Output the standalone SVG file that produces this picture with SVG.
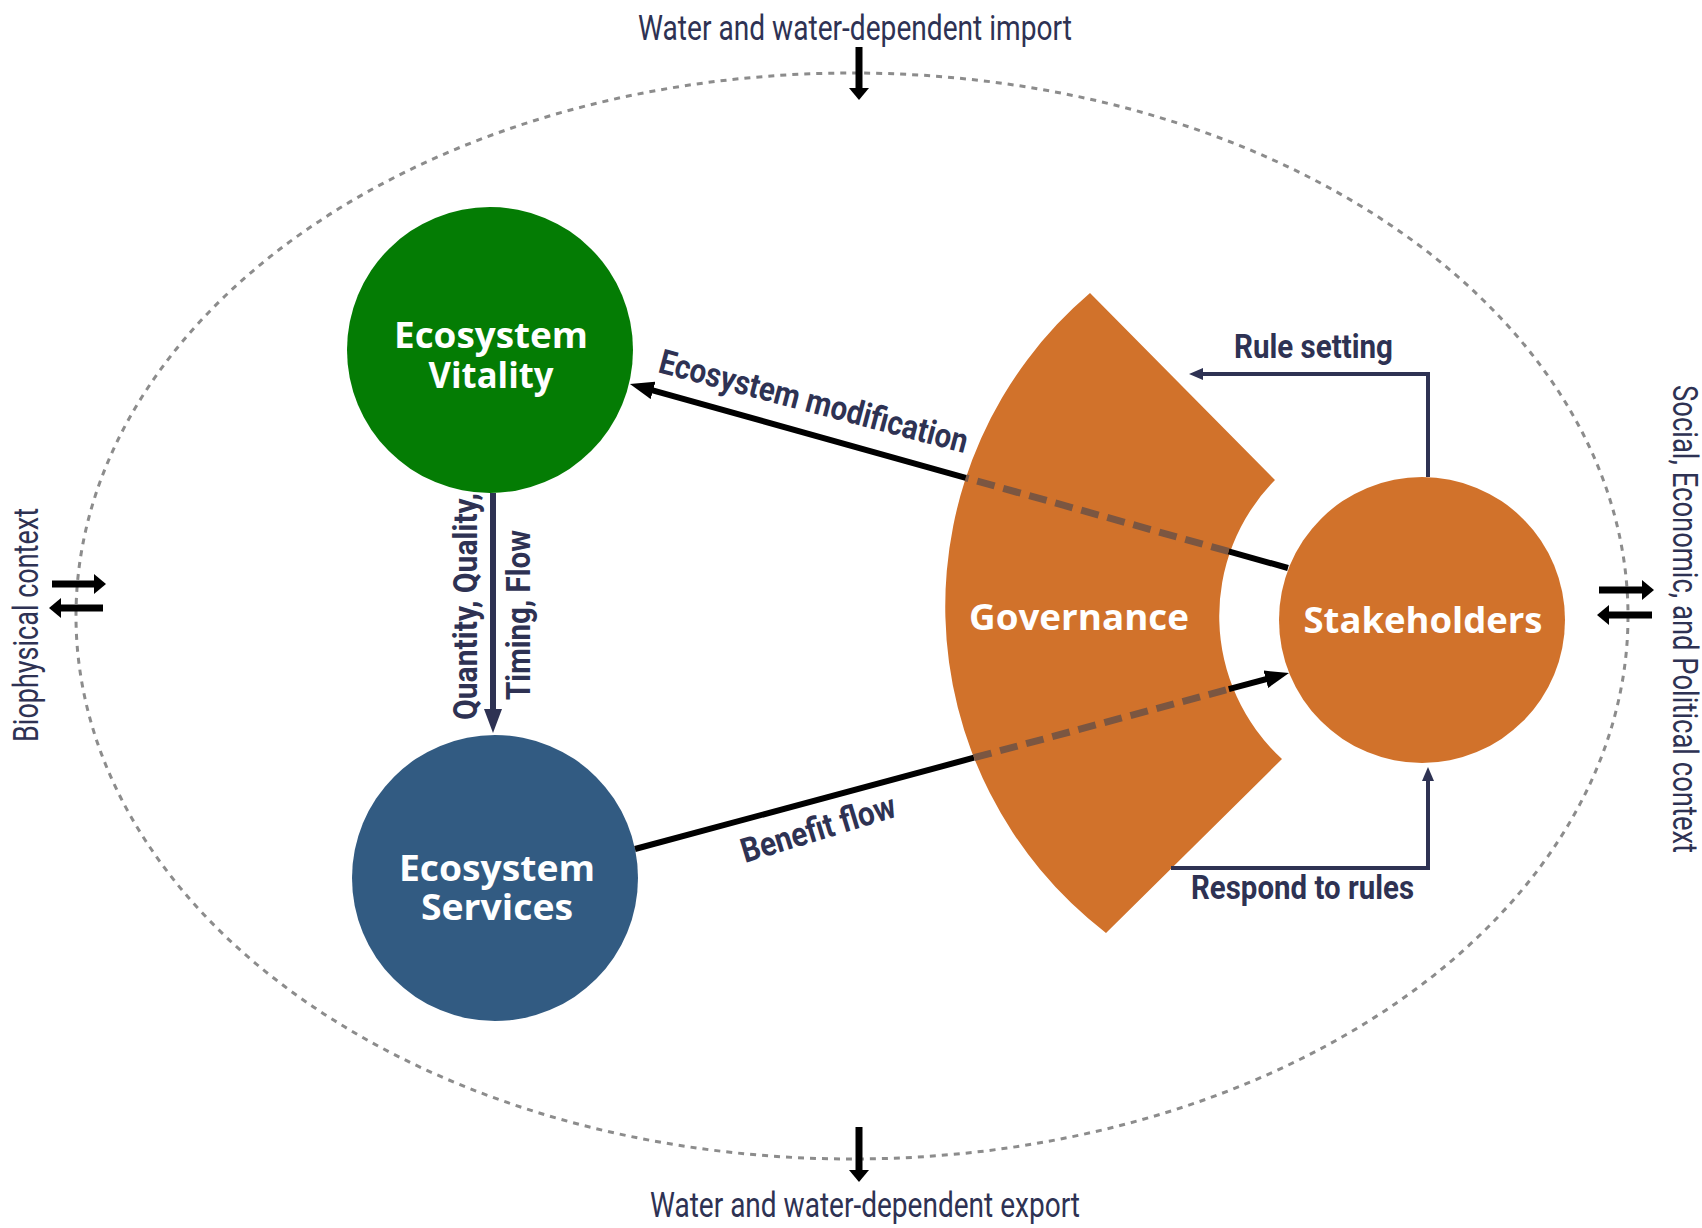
<svg xmlns="http://www.w3.org/2000/svg" width="1702" height="1228" viewBox="0 0 1702 1228">
  <style>
    .ctx { font-family: Roboto, "Liberation Sans", sans-serif; font-size: 35px; fill: #2e3253; }
    .lbl { font-family: Roboto, "Liberation Sans", sans-serif; font-size: 34px; font-weight: 700; fill: #2e3253; }
    .node { font-family: "Open Sans", "Liberation Sans", sans-serif; font-size: 36px; font-weight: 700; fill: #ffffff; }
    .blk { stroke: #000; stroke-width: 6; fill: none; }
    .nav { stroke: #2e3253; fill: none; }
    .dash { stroke: #7b5641; stroke-width: 7; stroke-dasharray: 18 9; fill: none; }
    .sm { stroke: #000; stroke-width: 7; fill: none; }
  </style>
  <defs>
    <marker id="ahBlack" markerUnits="userSpaceOnUse" markerWidth="24" markerHeight="18" refX="6" refY="9" orient="auto">
      <path d="M0,0 L24,9 L0,18 z" fill="#000"/>
    </marker>
    <marker id="ahNavy" markerUnits="userSpaceOnUse" markerWidth="24" markerHeight="18" refX="6" refY="9" orient="auto">
      <path d="M0,0 L24,9 L0,18 z" fill="#2e3253"/>
    </marker>
    <marker id="ahNavySmall" markerUnits="userSpaceOnUse" markerWidth="14" markerHeight="12" refX="4" refY="6" orient="auto">
      <path d="M0,0 L14,6 L0,12 z" fill="#2e3253"/>
    </marker>
    <marker id="ahSmall" markerUnits="userSpaceOnUse" markerWidth="12" markerHeight="20" refX="4" refY="10" orient="auto">
      <path d="M0,0 L12,10 L0,20 z" fill="#000"/>
    </marker>
  </defs>

  <rect width="1702" height="1228" fill="#ffffff"/>

  <g id="context-boundary">
    <ellipse cx="852" cy="616" rx="776" ry="543" fill="none" stroke="#8c8c8c" stroke-width="3" stroke-dasharray="6 6"/>
  </g>

  <g id="context-labels">
    <text class="ctx" x="855" y="40" text-anchor="middle" textLength="434" lengthAdjust="spacingAndGlyphs">Water and water-dependent import</text>
    <text class="ctx" x="865" y="1217" text-anchor="middle" textLength="430" lengthAdjust="spacingAndGlyphs">Water and water-dependent export</text>
    <text class="ctx" transform="translate(38,742) rotate(-90)" textLength="234" lengthAdjust="spacingAndGlyphs">Biophysical context</text>
    <text class="ctx" transform="translate(1673,385) rotate(90)" textLength="468" lengthAdjust="spacingAndGlyphs">Social, Economic, and Political context</text>
  </g>

  <g id="node-vitality">
    <circle cx="490" cy="350" r="143" fill="#047c04"/>
    <text class="node" text-anchor="middle"><tspan x="491" y="348" textLength="194" lengthAdjust="spacingAndGlyphs">Ecosystem</tspan><tspan x="491" y="388" textLength="125" lengthAdjust="spacingAndGlyphs">Vitality</tspan></text>
  </g>

  <g id="node-services">
    <circle cx="495" cy="878" r="143" fill="#325b82"/>
    <text class="node" text-anchor="middle"><tspan x="497" y="881" textLength="196" lengthAdjust="spacingAndGlyphs">Ecosystem</tspan><tspan x="497" y="920" textLength="152" lengthAdjust="spacingAndGlyphs">Services</tspan></text>
  </g>

  <g id="node-governance">
    <path d="M1090,293 A411.9,411.9 0 0 0 1106,933 L1282,759 A194,194 0 0 1 1275,480 Z" fill="#d1722b"/>
    <text class="node" x="1079" y="630" text-anchor="middle" textLength="220" lengthAdjust="spacingAndGlyphs">Governance</text>
  </g>

  <g id="node-stakeholders">
    <circle cx="1422" cy="620" r="143" fill="#d1722b"/>
    <text class="node" x="1423" y="633" text-anchor="middle" textLength="239" lengthAdjust="spacingAndGlyphs">Stakeholders</text>
  </g>

  <g id="connectors">
    <line class="blk" x1="1288" y1="568" x2="1228.6" y2="551.4"/>
    <line class="dash" x1="1228.6" y1="551.4" x2="965.8" y2="477.9"/>
    <line class="blk" x1="965.8" y1="477.9" x2="647.3" y2="388.8" marker-end="url(#ahBlack)"/>
    <line class="blk" x1="635" y1="849" x2="974" y2="757.7"/>
    <line class="dash" x1="974" y1="757.7" x2="1228.8" y2="689.2"/>
    <line class="blk" x1="1228.8" y1="689.2" x2="1271.6" y2="677.7" marker-end="url(#ahBlack)"/>
    <line class="nav" stroke-width="6" x1="493" y1="493" x2="493" y2="715" marker-end="url(#ahNavy)"/>
    <path class="nav" stroke-width="4" d="M1428,477 V374 H1199" marker-end="url(#ahNavySmall)"/>
    <path class="nav" stroke-width="4" d="M1171,868 H1428 V777" marker-end="url(#ahNavySmall)"/>
    <line class="sm" x1="859" y1="47" x2="859" y2="92" marker-end="url(#ahSmall)"/>
    <line class="sm" x1="859" y1="1127" x2="859" y2="1174" marker-end="url(#ahSmall)"/>
    <line class="sm" x1="52" y1="584" x2="98" y2="584" marker-end="url(#ahSmall)"/>
    <line class="sm" x1="103" y1="608" x2="57" y2="608" marker-end="url(#ahSmall)"/>
    <line class="sm" x1="1599" y1="590" x2="1646" y2="590" marker-end="url(#ahSmall)"/>
    <line class="sm" x1="1652" y1="615" x2="1605" y2="615" marker-end="url(#ahSmall)"/>
  </g>

  <g id="connector-labels">
    <text class="lbl" transform="translate(657,372) rotate(14.8)" textLength="318" lengthAdjust="spacingAndGlyphs">Ecosystem modification</text>
    <text class="lbl" transform="translate(745,863) rotate(-17)" textLength="160" lengthAdjust="spacingAndGlyphs">Benefit flow</text>
    <text class="lbl" transform="translate(477,720) rotate(-90)" textLength="227" lengthAdjust="spacingAndGlyphs">Quantity, Quality,</text>
    <text class="lbl" transform="translate(530,700) rotate(-90)" textLength="170" lengthAdjust="spacingAndGlyphs">Timing, Flow</text>
    <text class="lbl" x="1234" y="358" textLength="159" lengthAdjust="spacingAndGlyphs">Rule setting</text>
    <text class="lbl" x="1191" y="899" textLength="223" lengthAdjust="spacingAndGlyphs">Respond to rules</text>
  </g>
</svg>
